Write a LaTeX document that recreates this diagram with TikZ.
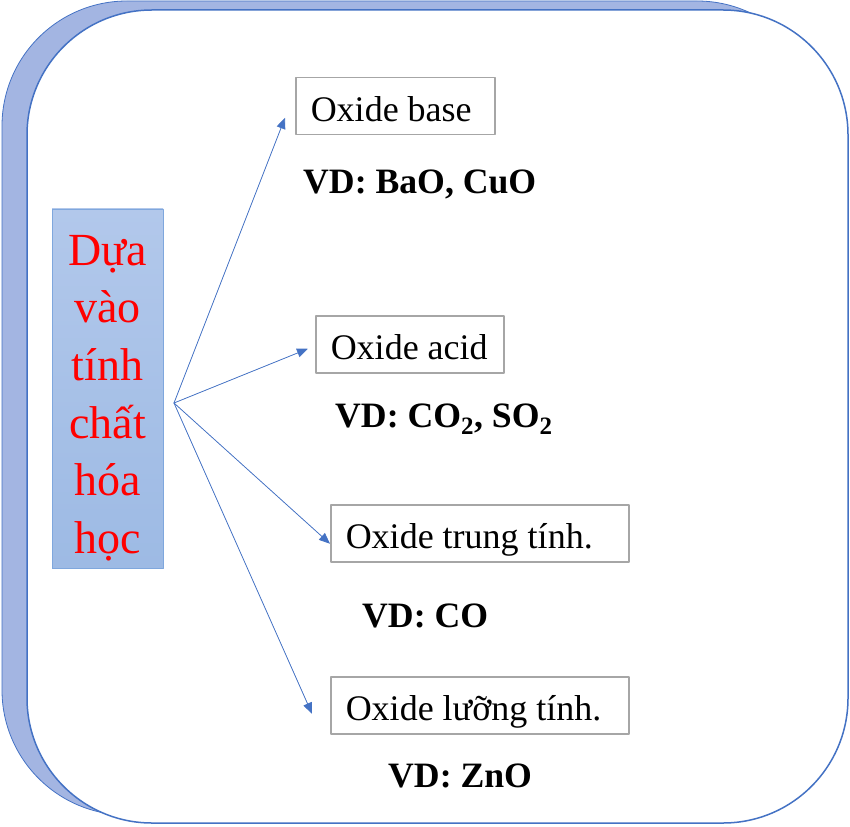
\documentclass[tikz,border=0pt]{standalone}
\usepackage{fontspec}
\setmainfont{Liberation Serif}
\usetikzlibrary{arrows.meta,positioning}
\definecolor{khung}{RGB}{68,114,196}
\definecolor{khungsau}{RGB}{163,181,226}
\definecolor{vienxam}{RGB}{166,166,166}
\definecolor{xanhtren}{RGB}{178,200,235}
\definecolor{xanhduoi}{RGB}{157,186,228}
\definecolor{vienxanh}{RGB}{127,167,221}

\begin{document}
\begin{tikzpicture}[x=1pt,y=-1pt,line cap=round,line join=round,>={Triangle[length=11pt,width=9pt]},
  loai/.style={draw=vienxam,line width=1.5pt,anchor=north west,minimum height=57pt,inner xsep=15pt,inner ysep=0pt,text height=32pt,text depth=2pt,align=flush left,font=\fontsize{36}{42}\selectfont},
  vidu/.style={anchor=base west,inner sep=0pt,font=\fontsize{35.7}{42}\selectfont\bfseries},
  muiten/.style={->,draw=khung,fill=khung,line width=0.75pt}]
\useasboundingbox (0,0) rectangle (850,826);
% khung nen
\draw[fill=khungsau,draw=khung,line width=0.8pt,rounded corners=125pt] (2,1) rectangle (822,815);
\draw[fill=white,draw=khung,line width=1.5pt,rounded corners=125pt] (27,10) rectangle (848,823);
% o ben trai
\node[draw=vienxanh,top color=xanhtren,bottom color=xanhduoi,minimum width=111pt,minimum height=359pt,inner sep=0pt] (goc) at (107.5,388.5) {};
\node[text=red,align=center,font=\fontsize{46}{57.6}\selectfont] (chu) at (107.5,398) {Dựa\\vào\\tính\\chất\\hóa\\học};
% cac loai oxide
\node[loai,text width=169pt] (bazo) at (295,77) {Oxide base};
\node[loai,text width=158pt] (axit) at (315,315) {Oxide acid};
\node[loai,text width=268pt] (trungtinh) at (330,504) {Oxide trung tính.};
\node[loai,text width=268pt] (luongtinh) at (330,676) {Oxide lưỡng tính.};
% vi du
\node[vidu] (vdbazo) at (303,194) {VD: BaO, CuO};
\node[vidu] (vdaxit) at (335,427) {VD: CO\textsubscript{2}, SO\textsubscript{2}};
\node[vidu] (vdtrung) at (362,627) {VD: CO};
\node[vidu] (vdluong) at (388,787) {VD: ZnO};
% mui ten
\coordinate (tach) at (174,403);
\draw[muiten] (tach) -- ([xshift=-10pt,yshift=-11.5pt]bazo.west);
\draw[muiten] (tach) -- ([xshift=-7pt,yshift=-4.5pt]axit.west);
\draw[muiten] (tach) -- ([yshift=-10.5pt]trungtinh.west);
\draw[muiten] (tach) -- ([xshift=-18pt,yshift=-8.5pt]luongtinh.west);
\end{tikzpicture}
\end{document}
